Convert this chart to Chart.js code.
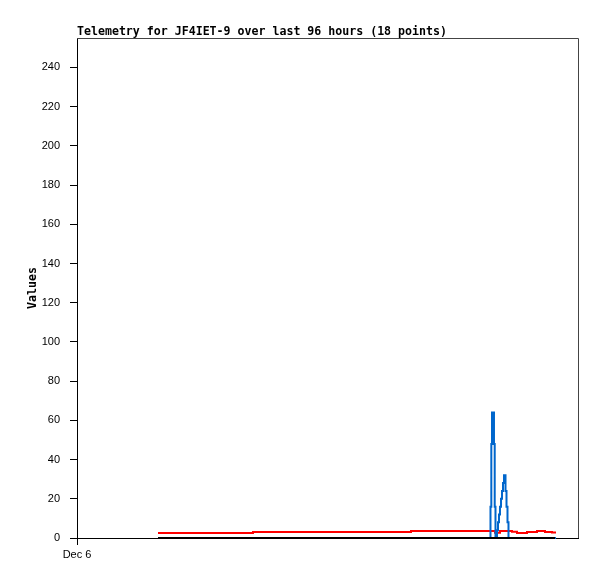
<!DOCTYPE html>
<html>
<head>
<meta charset="utf-8">
<script src="https://cdn.jsdelivr.net/npm/chart.js@4.4.0/dist/chart.umd.min.js"></script>
<style>
  body { margin: 0; background: #fff; }
  #wrap { width: 597px; height: 579px; }
</style>
</head>
<body>
<div id="wrap"><canvas id="telemetryChart" width="597" height="579"></canvas></div>
<script>
// times are hours since Dec 6 00:00 (window is 96 hours)
const redHours   = [15.52, 33.72, 64.0, 80.10, 81.05, 83.35, 84.31, 86.23, 88.14, 89.68, 91.02, 91.79];
const redValues  = [2.6, 3.1, 3.6, 2.7, 3.6, 3.2, 2.6, 3.0, 3.6, 3.1, 2.8, 2.8];

const blueHours  = [15.52, 79.23, 79.39, 79.52, 79.90, 80.04, 80.19, 80.48, 80.67, 80.86,
                    81.05, 81.25, 81.44, 81.63, 81.82, 82.11, 82.30, 82.49, 82.68, 91.79];
const blueValues = [0, 16, 48, 64, 48, 16, 0, 4, 8, 12,
                    16, 20, 24, 28, 32, 24, 16, 8, 0, 0];

const blackHours  = [15.52, 91.59];
const blackValues = [0, 0];

const yTicks = [0, 20, 40, 60, 80, 100, 120, 140, 160, 180, 200, 220, 240];
const xTickLabels = ['Dec 6'];
const titleText = 'Telemetry for JF4IET-9 over last 96 hours (18 points)';

function pts(times, values) {
  return times.map((h, i) => ({ x: h, y: values[i] }));
}

// title, y axis title and the top/right frame
const frame = {
  id: 'frame',
  afterDraw(chart) {
    const { ctx, chartArea: a } = chart;
    ctx.save();
    ctx.strokeStyle = '#444';
    ctx.lineWidth = 1;
    ctx.beginPath();
    ctx.moveTo(a.left, a.top + 0.5);
    ctx.lineTo(a.right + 0.5, a.top + 0.5);
    ctx.lineTo(a.right + 0.5, a.bottom);
    ctx.stroke();

    ctx.fillStyle = '#000';
    ctx.font = 'bold 11.6px "DejaVu Sans Mono"';
    ctx.textBaseline = 'alphabetic';
    ctx.textAlign = 'left';
    ctx.fillText(titleText, a.left, 35);

    ctx.translate(36, (a.top + a.bottom) / 2);
    ctx.rotate(-Math.PI / 2);
    ctx.textAlign = 'center';
    ctx.fillText('Values', 0, 0);
    ctx.restore();
  }
};

const chart = new Chart(document.getElementById('telemetryChart'), {
  type: 'line',
  data: {
    datasets: [
      { data: pts(blackHours, blackValues), borderColor: '#000000', borderWidth: 2 },
      { data: pts(blueHours, blueValues), borderColor: '#0066cc', borderWidth: 2 },
      { data: pts(redHours, redValues), borderColor: '#ff0000', borderWidth: 2 }
    ]
  },
  options: {
    responsive: false,
    animation: false,
    layout: { padding: { top: 38, right: 19, left: 0, bottom: 0 } },
    datasets: { line: { stepped: true, pointRadius: 0, clip: false, fill: false } },
    plugins: { legend: { display: false }, tooltip: { enabled: false } },
    scales: {
      x: {
        type: 'linear',
        min: 0,
        max: 96,
        afterBuildTicks: s => { s.ticks = [{ value: 0 }]; },
        afterFit: s => { s.height = 41; },
        ticks: {
          color: '#000',
          font: { family: 'Liberation Sans', size: 11 },
          padding: 3,
          maxRotation: 0,
          callback: (v, i) => xTickLabels[i]
        },
        grid: { drawOnChartArea: false, tickLength: 7, color: '#000' },
        border: { color: '#000' }
      },
      y: {
        min: 0,
        max: 255,
        afterBuildTicks: s => { s.ticks = yTicks.map(v => ({ value: v })); },
        afterFit: s => { s.width = 77; },
        ticks: {
          color: '#000',
          font: { family: 'Liberation Sans', size: 11 },
          padding: 10
        },
        grid: { drawOnChartArea: false, tickLength: 7, color: '#000' },
        border: { color: '#000' }
      }
    }
  },
  plugins: [frame]
});
</script>
</body>
</html>
